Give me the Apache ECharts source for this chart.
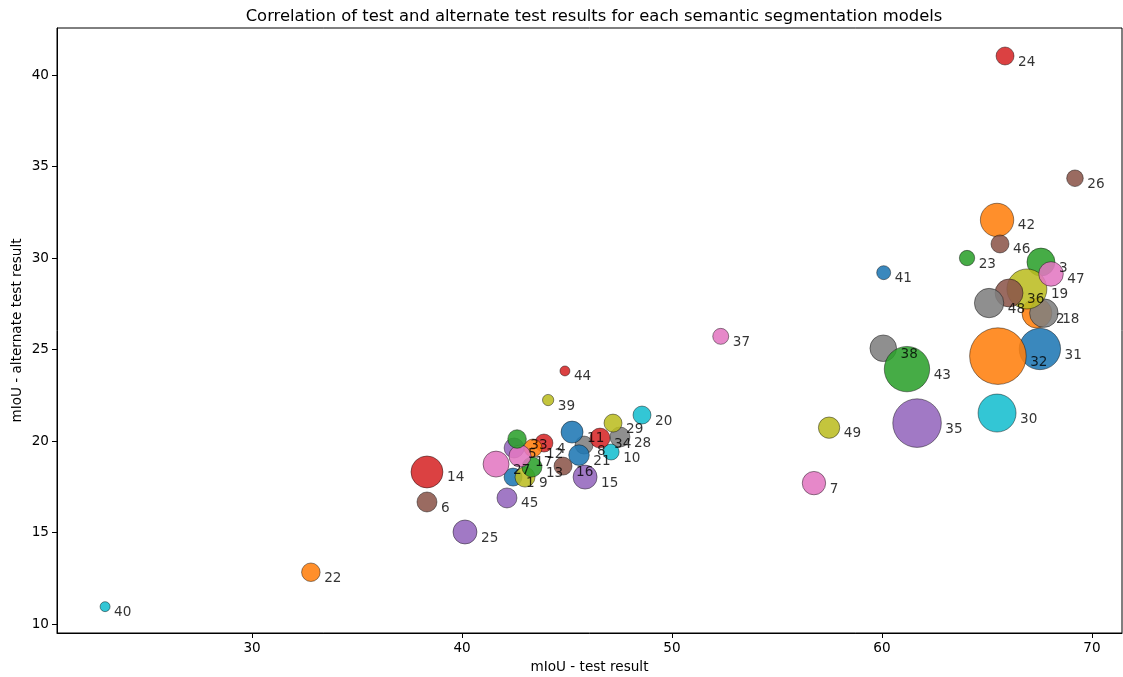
<!DOCTYPE html>
<html>
<head>
<meta charset="utf-8">
<script src="https://cdn.jsdelivr.net/npm/echarts@6/dist/echarts.min.js"></script>
<style>
  html, body { margin: 0; padding: 0; background: #fff; }
  #chart-container { width: 1123px; height: 677px; }
</style>
</head>
<body>
<div id="chart-container"></div>
<script>
// model ids 1..49
var models = [];
for (var i = 1; i <= 49; i++) models.push(String(i));

// mIoU on the test set
var testResult = [
  42.43, 67.38, 67.57, 43.90, 42.48, 38.33, 56.76, 45.81, 43.00, 47.10,
  45.24, 43.38, 43.33, 38.33, 45.86, 44.81, 42.76, 67.71, 66.90, 48.57,
  45.57, 32.80, 64.05, 65.86, 40.14, 69.19, 41.62, 47.52, 47.19, 65.48,
  67.52, 65.52, 42.62, 46.57, 61.67, 66.05, 52.32, 60.06, 44.10, 23.00,
  60.08, 65.48, 61.19, 44.90, 42.14, 65.62, 68.05, 65.10, 57.48
];

// mIoU on the alternate test set
var altResult = [
  18.03, 26.99, 29.78, 19.89, 19.62, 16.67, 17.70, 19.78, 18.03, 19.40,
  20.49, 19.62, 18.58, 18.31, 18.03, 18.63, 19.18, 26.99, 28.31, 21.42,
  19.23, 12.83, 30.00, 41.04, 15.03, 34.36, 18.74, 20.22, 20.98, 21.53,
  25.03, 24.64, 20.11, 20.16, 20.98, 28.09, 25.72, 25.07, 22.24, 10.95,
  29.20, 32.08, 23.93, 23.83, 16.89, 30.77, 29.13, 27.54, 20.73
];

// bubble weight (marker area)
var bubble = [
  81, 225, 196, 81, 100, 100, 137, 81, 100, 64,
  121, 81, 100, 256, 144, 81, 121, 204, 400, 81,
  106, 86, 59, 81, 144, 69, 169, 100, 81, 361,
  428, 801, 86, 100, 590, 196, 64, 177, 32, 25,
  49, 279, 515, 25, 100, 81, 151, 216, 114
];

var xTicks = [30, 40, 50, 60, 70];
var yTicks = [10, 15, 20, 25, 30, 35, 40];

var palette = ["#1f77b4", "#ff7f0e", "#2ca02c", "#d62728", "#9467bd",
               "#8c564b", "#e377c2", "#7f7f7f", "#bcbd22", "#17becf"];

var font = "DejaVu Sans";

var points = models.map(function (name, i) {
  return {
    name: name,
    value: [testResult[i], altResult[i], bubble[i]],
    itemStyle: { color: palette[i % 10] }
  };
});

var labelPoints = models.map(function (name, i) {
  return { name: name, value: [testResult[i], altResult[i], bubble[i]] };
});

function sizeOf(v) {
  return 2 * Math.sqrt(v[2]);
}

var dom = document.getElementById("chart-container");
var myChart = echarts.init(dom, null, { renderer: "canvas" });

var option = {
  animation: false,
  title: {
    text: "Correlation of test and alternate test results for each semantic segmentation models",
    left: 589,
    textAlign: "center",
    top: 4,
    textStyle: { fontFamily: font, fontSize: 16.4, fontWeight: "normal", color: "#000" }
  },
  grid: {
    left: 57,
    right: 1,
    top: 28,
    bottom: 44,
    outerBoundsMode: "none",
    containLabel: false,
    show: true,
    borderColor: "#000",
    borderWidth: 1
  },
  xAxis: {
    type: "value",
    min: 20.71,
    max: 71.43,
    name: "mIoU - test result",
    nameLocation: "middle",
    nameGap: 27,
    nameTextStyle: { fontFamily: font, fontSize: 13.6, color: "#000" },
    splitLine: { show: false },
    axisLine: { show: true, onZero: false, lineStyle: { color: "#000", width: 1 } },
    axisTick: { show: true, length: 5, customValues: xTicks, lineStyle: { color: "#000" } },
    axisLabel: {
      customValues: xTicks,
      fontFamily: font,
      fontSize: 13.6,
      color: "#000",
      margin: 8
    }
  },
  yAxis: {
    type: "value",
    min: 9.51,
    max: 42.57,
    name: "mIoU - alternate test result",
    nameLocation: "middle",
    nameGap: 33,
    nameMoveOverlap: false,
    nameRotate: 90,
    nameTextStyle: { fontFamily: font, fontSize: 13.6, color: "#000" },
    splitLine: { show: false },
    axisLine: { show: true, onZero: false, lineStyle: { color: "#000", width: 1 } },
    axisTick: { show: true, length: 5, customValues: yTicks, lineStyle: { color: "#000" } },
    axisLabel: {
      customValues: yTicks,
      fontFamily: font,
      fontSize: 13.6,
      color: "#000",
      margin: 8
    }
  },
  series: [
    {
      name: "models",
      type: "scatter",
      data: points,
      symbolSize: sizeOf,
      itemStyle: {
        opacity: 0.88,
        borderColor: "rgba(0,0,0,0.7)",
        borderWidth: 0.7
      },
      z: 2
    },
    {
      name: "labels",
      type: "scatter",
      data: labelPoints,
      symbolSize: sizeOf,
      itemStyle: { color: "rgba(0,0,0,0)", borderWidth: 0 },
      silent: true,
      z: 3,
      labelLayout: { hideOverlap: false, dy: 6 },
      label: {
        show: true,
        position: "right",
        distance: 4,
        formatter: "{b}",
        fontFamily: font,
        fontSize: 13.6,
        color: "#000"
      }
    }
  ]
};

myChart.setOption(option);
window.addEventListener("resize", myChart.resize);
</script>
</body>
</html>
